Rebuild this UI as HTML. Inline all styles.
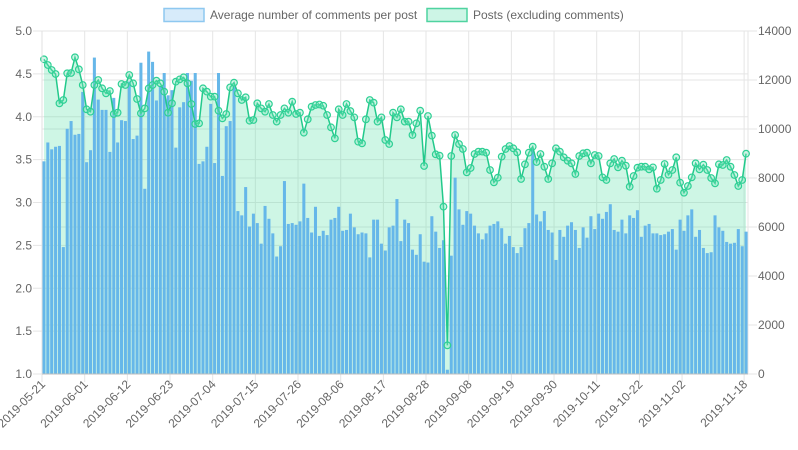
<!DOCTYPE html>
<html><head><meta charset="utf-8"><style>
html,body{margin:0;padding:0;background:#fff;}
svg{display:block;font-family:"Liberation Sans",sans-serif;}
</style></head><body>
<svg id="chart" width="798" height="450" viewBox="0 0 798 450" xmlns="http://www.w3.org/2000/svg">
<g id="legend">
 <g>
  <rect x="164" y="8.5" width="40" height="13" fill="#d7ebfa" stroke="#8ec8f0" stroke-width="1.5"/>
  <text x="210" y="19" font-size="12" fill="#666">Average number of comments per post</text>
 </g>
 <g>
  <rect x="427" y="8.5" width="40" height="13" fill="#cdf5e6" stroke="#4fd3a0" stroke-width="1.5"/>
  <text x="473" y="19" font-size="12" fill="#666">Posts (excluding comments)</text>
 </g>
</g>
<g id="grid"></g>
<g id="fill"></g>
<g id="bars"></g>
<g id="line"></g>
<g id="axes"></g>
</svg>
<script>
const startDate = "2019-05-21";
const avgComments = [3.48,3.70,3.62,3.65,3.66,2.48,3.86,3.95,3.79,3.80,4.29,3.47,3.61,4.69,4.20,4.08,4.08,3.59,4.22,3.70,3.96,3.95,4.41,3.74,3.78,4.63,3.16,4.76,4.64,4.19,4.35,
4.51,4.25,4.31,3.64,4.11,4.17,4.51,4.42,4.51,3.45,3.48,3.65,4.15,3.46,4.51,3.31,3.89,3.95,4.35,2.90,2.85,3.18,2.72,2.87,2.76,2.52,2.96,2.81,2.64,2.37,2.49,3.25,
2.75,2.76,2.74,2.78,3.22,2.82,2.65,2.95,2.61,2.67,2.62,2.80,2.82,2.95,2.67,2.68,2.87,2.71,2.63,2.65,2.64,2.36,2.80,2.80,2.52,2.44,2.71,2.73,3.04,2.55,2.80,
2.76,2.45,2.39,2.63,2.31,2.30,2.84,2.66,2.47,2.56,1.05,2.38,3.29,2.92,2.74,2.90,2.87,2.73,2.64,2.57,2.64,2.73,2.75,2.78,2.70,2.52,2.61,2.48,2.41,2.48,2.70,2.76,
3.61,2.86,2.78,2.90,2.68,2.65,2.33,2.68,2.60,2.73,2.77,2.68,2.47,2.71,2.59,2.84,2.69,2.87,2.81,2.89,2.98,2.68,2.66,2.80,2.64,2.85,2.82,2.91,2.60,2.73,2.75,
2.64,2.64,2.62,2.63,2.66,2.69,2.45,2.80,2.67,2.85,2.92,2.60,2.68,2.47,2.41,2.42,2.85,2.71,2.67,2.54,2.52,2.53,2.69,2.49,2.66];
const posts = [12845,12612,12408,12245,11048,11184,12273,12285,12926,12436,11796,10803,10707,11796,12000,11660,11456,11551,10612,10666,11837,11796,12204,11864,11224,10640,10843,11660,11796,11973,11864,
11524,10666,11048,11932,12027,12109,11864,11020,10204,10230,11660,11524,11320,11320,10748,10435,10612,11700,11891,11456,11184,11293,10340,10367,11048,10843,10707,11020,10571,10300,10571,10843,
10666,11116,10612,10666,9850,10395,10911,10980,11000,10950,10571,10068,9619,10803,10571,11020,10734,10476,9483,9415,10395,11184,11075,10300,10476,9551,9388,10666,10476,10803,10300,
10300,9755,10231,10748,8490,10530,9728,8966,8911,6830,1170,8898,9755,9388,9184,8231,8408,8980,9075,9075,9034,8327,7823,8014,8871,9184,9306,9211,9048,7959,8558,9034,
9279,8653,8980,8462,7959,8599,9211,9075,8844,8707,8599,8163,8898,9007,9034,8599,8939,8898,8027,7918,8599,8775,8435,8707,8503,7646,8082,8422,8462,8462,8354,
8435,7564,7918,8571,8136,8327,8844,7810,7401,7673,8027,8599,8354,8544,8327,8000,7782,8558,8530,8735,8462,8122,7673,7918,8993];
const leftTicks = ["1.0","1.5","2.0","2.5","3.0","3.5","4.0","4.5","5.0"];
const rightTicks = ["0","2000","4000","6000","8000","10000","12000","14000"];

const NS="http://www.w3.org/2000/svg";
const L=42,R=748,T=31,B=374;
const n=avgComments.length, step=(R-L)/n;
const xAt=i=>L+(i+0.5)*step;
const yLeft=v=>B-(v-1)/4*(B-T);
const yRight=v=>B-v/14000*(B-T);
function mk(tag,attrs,parent){const e=document.createElementNS(NS,tag);for(const k in attrs)e.setAttribute(k,attrs[k]);parent.appendChild(e);return e;}
const labels=[];
{const d=new Date(startDate+"T00:00:00Z");for(let i=0;i<n;i++){const dd=new Date(d.getTime()+i*86400000);labels.push(dd.toISOString().slice(0,10));}}
const grid=document.getElementById('grid'),axes=document.getElementById('axes');
// horizontal grid
leftTicks.forEach(t=>{const y=yLeft(parseFloat(t));
 const g=mk('line',{x1:33,x2:R,y1:y,y2:y,stroke:'#e5e5e5','stroke-width':1},grid);
 
 const tx=mk('text',{x:32,y:y+4,'text-anchor':'end','font-size':12,fill:'#666'},axes);tx.textContent=t;
 });
rightTicks.forEach(t=>{const y=yRight(parseFloat(t));
 const g=mk('line',{x1:L,x2:757,y1:y,y2:y,stroke:'#e5e5e5','stroke-width':1},grid);
 
 const tx=mk('text',{x:758,y:y+4,'font-size':12,fill:'#666'},axes);tx.textContent=t;
 });
// x ticks
const shown=[];for(let i=0;i<n;i+=11){if(i<=n-12)shown.push(i);}shown.push(n-1);
shown.forEach(i=>{const gx=L+i*step;
 const g=mk('line',{x1:gx,x2:gx,y1:T,y2:B+8,stroke:'#e5e5e5','stroke-width':1},grid);
 
 const cx=xAt(i)+2,cy=B+11;
 const tx=mk('text',{x:cx,y:cy,'text-anchor':'end','font-size':12,fill:'#666',transform:`rotate(-45 ${cx} ${cy})`},axes);
 tx.textContent=labels[i];
 });
mk('line',{x1:R,x2:R,y1:T,y2:B,stroke:'#e5e5e5'},grid);
// fill
let pts=posts.map((v,i)=>[xAt(i),yRight(v)]);
let dpath='M'+xAt(0)+','+B+' '+pts.map(p=>'L'+p[0].toFixed(2)+','+p[1].toFixed(2)).join(' ')+' L'+xAt(n-1)+','+B+' Z';
const f=mk('path',{d:dpath,fill:'rgba(75,220,160,0.27)'},document.getElementById('fill'));

// bars
const bars=document.getElementById('bars');const bw=step*0.78;
avgComments.forEach((v,i)=>{const y=yLeft(v);
 const r=mk('rect',{x:(xAt(i)-bw/2).toFixed(2),y:y.toFixed(2),width:bw.toFixed(2),height:(B-y).toFixed(2),fill:'#66b7e9'},bars);
 });
// line
const lg=document.getElementById('line');
const pl=mk('polyline',{points:pts.map(p=>p[0].toFixed(2)+','+p[1].toFixed(2)).join(' '),fill:'none',stroke:'#22c98b','stroke-width':1.5},lg);

pts.forEach((p,i)=>{const c=mk('circle',{cx:p[0].toFixed(2),cy:p[1].toFixed(2),r:3.3,fill:'rgba(120,230,185,0.35)',stroke:'#2fd095','stroke-width':1.2},lg);
 });
// axis lines
mk('line',{x1:L,x2:R,y1:B,y2:B,stroke:'#bdbdbd'},axes);
mk('line',{x1:L,x2:L,y1:T,y2:B,stroke:'#e0e0e0'},axes);
</script>
</body></html>
